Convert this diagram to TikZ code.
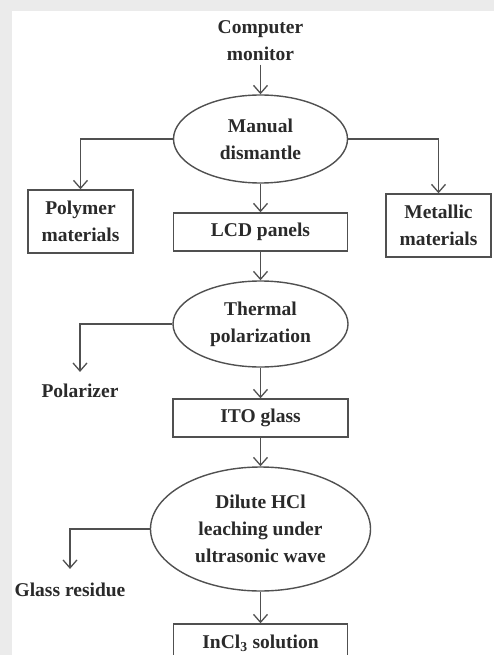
\documentclass[tikz,border=0pt]{standalone}
\usepackage{fontspec}
\setmainfont{Liberation Serif}
\usetikzlibrary{shapes.geometric,arrows.meta}
\definecolor{ink}{HTML}{2A2A2A}
\definecolor{linec}{HTML}{505050}
\tikzset{
  every node/.style={font=\fontsize{19.5}{27}\selectfont\bfseries, text=ink},
  procbox/.style={draw=linec, line width=1.4pt, rectangle, inner sep=0pt},
  procell/.style={draw=linec, line width=1.4pt, ellipse, inner sep=0pt},
  plain/.style={align=center, inner xsep=0pt},
  arr/.style={draw=linec, line width=1.3pt, -{Straight Barb[length=8pt,width=14pt,line width=1.3pt]}}
}
\begin{document}
\begin{tikzpicture}[x=1pt,y=-1pt]
\useasboundingbox (0,0) rectangle (494,655);
\clip (0,0) rectangle (494,655);
\fill[white] (0,0) rectangle (494,655);
\fill[black!8] (0,0) rectangle (494,11);
\fill[black!8] (0,0) rectangle (12,655);

\node[plain] (top) at (260.5,41) {Computer\\monitor};
\node[procell, minimum width=174pt, minimum height=88pt, align=center] (e1) at (260.5,139) {Manual\\dismantle};
\node[procbox, minimum width=105pt, minimum height=63pt, align=center] (poly) at (80.5,221.5) {Polymer\\materials};
\node[procbox, minimum width=174pt, minimum height=38pt] (lcd) at (260.5,232) {LCD panels};
\node[procbox, minimum width=105pt, minimum height=63pt, align=center] (met) at (438.5,225.5) {Metallic\\materials};
\node[procell, minimum width=175pt, minimum height=86pt, align=center] (e2) at (260.5,324) {Thermal\\polarization};
\node[plain, inner ysep=12pt] (pol) at (80,391) {Polarizer};
\node[procbox, minimum width=175pt, minimum height=38pt] (ito) at (260.5,418) {ITO glass};
\node[procell, minimum width=220pt, minimum height=124pt, align=center] (e3) at (260.5,529) {Dilute HCl\\leaching under\\ultrasonic wave};
\node[plain, inner ysep=14pt] (glass) at (70,590) {Glass residue};
\node[procbox, minimum width=174pt, minimum height=38pt] (incl) at (260.5,643) {InCl\textsubscript{3} solution};

\draw[arr] (top.south) -- (e1.north);
\draw[arr] (e1.west) -| (poly.north);
\draw[arr] (e1.east) -| (met.north);
\draw[arr] (e1.south) -- (lcd.north);
\draw[arr] (lcd.south) -- (e2.north);
\draw[arr] (e2.west) -| (pol.north);
\draw[arr] (e2.south) -- (ito.north);
\draw[arr] (ito.south) -- (e3.north);
\draw[arr] (e3.west) -| (glass.north);
\draw[arr] (e3.south) -- (incl.north);
\end{tikzpicture}
\end{document}
